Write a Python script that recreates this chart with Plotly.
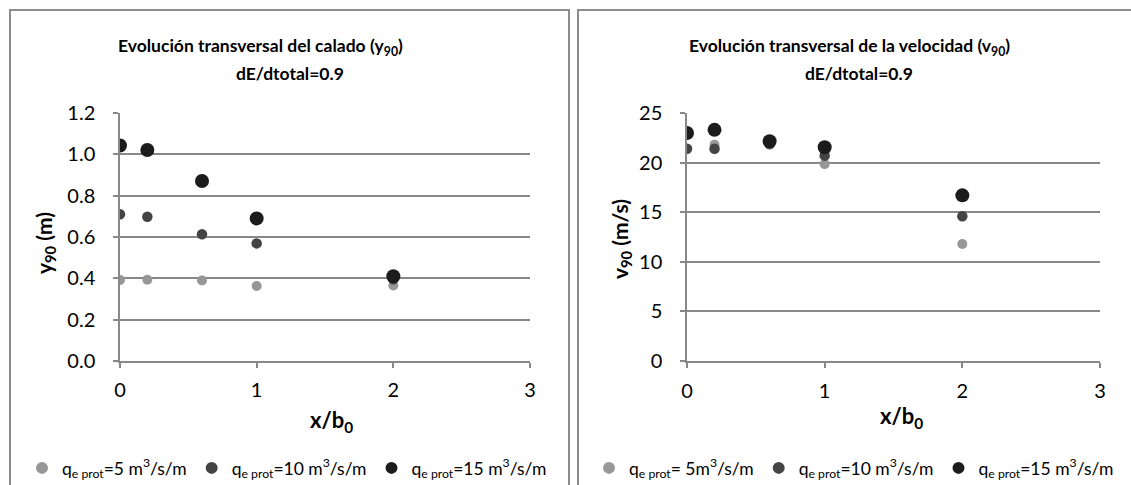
import plotly.graph_objects as go

W, H = 1131, 485

# ---------------- data ----------------
x_pos = [0, 0.2, 0.6, 1, 2]

y90_q5 = [0.392, 0.393, 0.390, 0.363, 0.365]
y90_q10 = [0.710, 0.698, 0.613, 0.569, 0.395]
y90_q15 = [1.043, 1.021, 0.871, 0.690, 0.410]

v90_q5 = [21.4, 21.8, 21.8, 19.85, 11.8]
v90_q10 = [21.4, 21.4, 21.9, 20.7, 14.6]
v90_q15 = [22.98, 23.3, 22.15, 21.55, 16.7]

legend_left = ["q<sub>e prot</sub>=5 m<sup>3</sup>/s/m",
               "q<sub>e prot</sub>=10 m<sup>3</sup>/s/m",
               "q<sub>e prot</sub>=15 m<sup>3</sup>/s/m"]
legend_right = ["q<sub>e prot</sub>= 5m<sup>3</sup>/s/m",
                "q<sub>e prot</sub>=10 m<sup>3</sup>/s/m",
                "q<sub>e prot</sub>=15 m<sup>3</sup>/s/m"]

x_ticks = [0, 1, 2, 3]
y_ticks_left = [0, 0.2, 0.4, 0.6, 0.8, 1.0, 1.2]
y_ticks_right = [0, 5, 10, 15, 20, 25]

# ---------------- styles ----------------
FONT = "Lato"
C_LIGHT = "#979797"
C_DARK = "#444444"
C_BLACK = "#1c1c1c"
GRID = "#888888"
FRAME = "#8c8c8c"

def px_x(p):
    return p / W

def px_y(p):
    return 1 - p / H

fig = go.Figure()

series_left = [(y90_q5, C_LIGHT, 10), (y90_q10, C_DARK, 10.5), (y90_q15, C_BLACK, 14)]
series_right = [(v90_q5, C_LIGHT, 10), (v90_q10, C_DARK, 10.5), (v90_q15, C_BLACK, 14)]

for (vals, col, sz), name in zip(series_left, legend_left):
    fig.add_trace(go.Scatter(x=x_pos, y=vals, mode="markers", name=name,
                             marker=dict(color=col, size=sz, line=dict(width=0)),
                             xaxis="x", yaxis="y", legend="legend"))
for (vals, col, sz), name in zip(series_right, legend_right):
    fig.add_trace(go.Scatter(x=x_pos, y=vals, mode="markers", name=name,
                             marker=dict(color=col, size=sz, line=dict(width=0)),
                             xaxis="x2", yaxis="y2", legend="legend2"))

ydom = [px_y(361), px_y(113)]

axis_common = dict(showline=True, linecolor=GRID, linewidth=1.5,
                   ticks="outside", ticklen=5, tickcolor=GRID, tickwidth=1.5,
                   tickfont=dict(family=FONT, size=20, color="#000000"),
                   zeroline=False, fixedrange=True)

legend_common = dict(orientation="h", xanchor="left", yanchor="middle",
                     font=dict(family=FONT, size=17.5, color="#000000"),
                     bgcolor="rgba(0,0,0,0)", itemclick=False, itemdoubleclick=False,
                     tracegroupgap=0, itemsizing="constant", itemwidth=30)

fig.update_layout(
    width=W, height=H,
    margin=dict(l=0, r=0, t=0, b=0, autoexpand=False),
    paper_bgcolor="white", plot_bgcolor="white",
    font=dict(family=FONT, color="#000000"),
    showlegend=True,
    xaxis=dict(domain=[px_x(120), px_x(530)], range=[0, 3], tickvals=x_ticks,
               showgrid=False, anchor="y", ticklabelstandoff=5, **axis_common),
    yaxis=dict(domain=ydom, range=[0, 1.2], tickvals=y_ticks_left, tickformat=".1f",
               showgrid=True, gridcolor=GRID, gridwidth=1.5, anchor="x",
               ticklabelstandoff=14, **axis_common),
    xaxis2=dict(domain=[px_x(687), px_x(1100)], range=[0, 3], tickvals=x_ticks,
                showgrid=False, anchor="y2", ticklabelstandoff=6, **axis_common),
    yaxis2=dict(domain=ydom, range=[0, 25], tickvals=y_ticks_right,
                showgrid=True, gridcolor=GRID, gridwidth=1.5, anchor="x2",
                ticklabelstandoff=14, **axis_common),
    legend=dict(x=px_x(22), y=px_y(468), **legend_common),
    legend2=dict(x=px_x(589), y=px_y(468), **legend_common),
)

# panel frames
fig.add_shape(type="rect", xref="paper", yref="paper",
              x0=px_x(10), x1=px_x(569), y0=px_y(500), y1=px_y(10),
              line=dict(color=FRAME, width=2), layer="below")
fig.add_shape(type="rect", xref="paper", yref="paper",
              x0=px_x(578), x1=px_x(1145), y0=px_y(500), y1=px_y(10),
              line=dict(color=FRAME, width=2), layer="below")

def ann(text, x, y, size, bold=True, angle=0):
    fig.add_annotation(text=f"<b>{text}</b>" if bold else text,
                       xref="paper", yref="paper", x=px_x(x), y=px_y(y),
                       xanchor="center", yanchor="middle", showarrow=False,
                       textangle=angle, font=dict(family=FONT, size=size, color="#000000"))

# titles
ann("Evolución transversal del calado (y<sub>90</sub>)", 260, 47, 17.5)
ann("dE/dtotal=0.9", 290, 73, 17.5)
ann("Evolución transversal de la velocidad (v<sub>90</sub>)", 849, 47, 17.5)
ann("dE/dtotal=0.9", 859, 73, 17.5)

# axis titles
ann("y<sub>90</sub> (m)", 45, 243, 21, angle=-90)
ann("v<sub>90</sub> (m/s)", 621, 239, 21, angle=-90)
ann("x/b<sub>0</sub>", 331, 421, 22)
ann("x/b<sub>0</sub>", 901, 417, 22)

fig.write_html("out.html")
